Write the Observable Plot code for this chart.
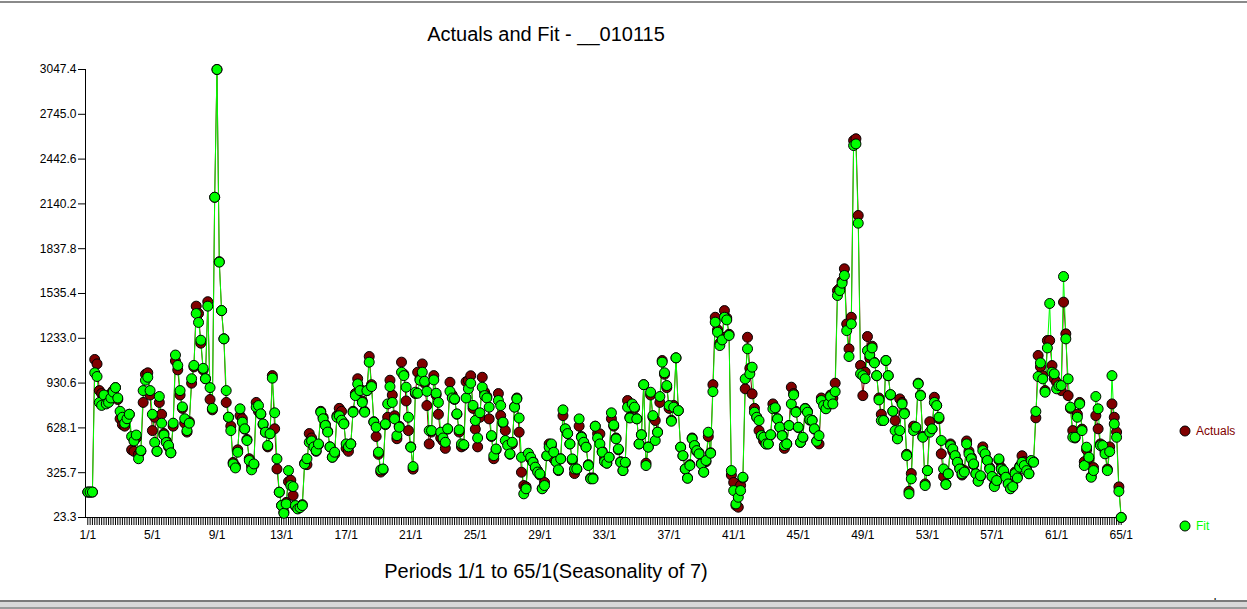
<!DOCTYPE html>
<html>
<head>
<meta charset="utf-8">
<script src="https://cdn.jsdelivr.net/npm/d3@7"></script>
<script src="https://cdn.jsdelivr.net/npm/@observablehq/plot@0.6"></script>
<style>
  html, body { margin: 0; padding: 0; background: #fff; }
  #wrap { position: relative; width: 1247px; height: 609px; overflow: hidden; font-family: "Liberation Sans", Arial, sans-serif; }
  #chart { position: absolute; left: 0; top: 0; }
  .txt { position: absolute; white-space: nowrap; color: #000; }
  #title { left: 546px; top: 22px; transform: translateX(-50%); font-size: 20px; line-height: 24px; }
  #xtitle { left: 546px; top: 559px; transform: translateX(-50%); font-size: 20px; line-height: 24px; }
  #topline { position: absolute; left: 0; top: 1px; width: 1247px; height: 2px; background: #8a8a8a; }
  #bot1 { position: absolute; left: 0; top: 600px; width: 1247px; height: 2px; background: #7a7a7a; }
  #bot2 { position: absolute; left: 0; top: 602px; width: 1247px; height: 5px; background: #d8d8d8; }
  #bot3 { position: absolute; left: 0; top: 607px; width: 1247px; height: 2px; background: #9a9a9a; }
  #legend { position: absolute; left: 1170px; top: 410px; }
</style>
</head>
<body>
<div id="wrap">
  <div id="topline"></div>
  <div id="chart"></div>
  <div class="txt" id="title">Actuals and Fit - __010115</div>
  <div class="txt" id="xtitle">Periods 1/1 to 65/1(Seasonality of 7)</div>
  <div id="bot1"></div><div id="bot2"></div><div id="bot3"></div>
  <svg id="legend" width="77" height="130"></svg>
</div>
<script>
// ---- data ----
const seriesNames = ["Actuals", "Fit"];
const seriesColors = ["#800000", "#00ff00"];
const yTickValues = [23.3, 325.7, 628.1, 930.6, 1233.0, 1535.4, 1837.8, 2140.2, 2442.6, 2745.0, 3047.4];
const xTickLabels = ["1/1","5/1","9/1","13/1","17/1","21/1","25/1","29/1","33/1","37/1","41/1","45/1","49/1","53/1","57/1","61/1","65/1"];

const actuals = [
195,195,195,1090,1060,880,860,840,800,810,860,880,900,820,690,650,640,700,720,480,
470,560,450,470,800,990,1000,850,610,700,470,800,720,590,540,500,460,640,1080,1020,
850,760,660,600,670,930,1040,1450,1400,1200,1020,960,1480,820,750,2185,3047.4,1750,1420,1230,
800,700,640,395,370,480,711,690,620,550,420,370,380,800,740,720,650,600,500,590,
981,622,351,194,104,60,125,265,275,172,100,85,95,110,390,380,590,560,520,470,
515,740,700,650,605,500,430,450,710,760,740,660,490,470,520,740,860,960,890,810,
740,880,1110,920,670,570,450,330,345,650,700,950,850,710,555,640,1072,990,810,610,
500,350,860,1004,960,1060,930,779,520,600,981,850,720,560,540,490,620,936,850,820,
720,600,500,510,940,948,980,760,620,500,700,970,870,840,689,570,420,480,860,711,
660,610,530,450,520,770,830,599,329,239,230,450,420,400,360,340,310,220,260,440,
520,510,420,400,340,420,711,620,590,520,410,320,350,640,570,530,500,380,290,290,
640,590,588,470,420,390,430,690,640,560,480,400,340,390,813,700,780,760,690,520,
582,920,390,500,850,700,678,600,800,1083,990,900,760,680,780,1101,745,498,440,350,
290,380,560,510,470,460,390,330,400,570,460,920,1375,1290,1200,1240,1420,1370,1260,310,
260,104,93,240,290,892,1240,1030,858,760,700,610,576,540,520,520,580,790,760,690,
633,580,490,520,644,903,860,740,630,530,560,760,740,680,680,620,540,520,830,790,
760,790,850,830,930,1555,1570,1620,1702,1330,1162,1375,2568,2580,2062,1050,846,1005,1245,1100,
1180,1070,980,830,720,680,1083,980,850,740,678,560,824,800,730,450,200,320,640,620,
930,850,570,250,340,670,620,835,780,690,453,300,250,320,520,470,440,400,360,310,
340,540,470,430,380,320,270,300,500,450,410,360,300,240,270,410,360,330,300,260,
220,240,330,300,370,440,400,360,320,400,400,696,1117,1040,980,880,1218,1218,1049,960,
936,900,880,1477,1263,846,760,610,560,720,800,620,400,480,420,300,360,711,622,520,
500,470,350,500,790,700,600,230,23.3
];

const fit = [
195,195,195,1000,975,800,780,850,790,800,830,870,900,830,740,700,660,690,720,570,
540,580,420,475,880,950,970,880,720,530,470,840,660,580,530,510,460,660,1120,1050,
880,770,690,610,660,960,1050,1400,1340,1220,1030,960,1450,900,760,2185,3047.4,1747,1420,1229,
880,700,610,385,358,464,757,667,622,543,408,345,385,768,779,723,655,599,509,588,
964,730,419,194,104,52,115,340,239,232,104,81,90,104,385,420,531,540,500,475,
520,734,690,645,600,500,430,464,700,710,680,655,520,500,520,734,846,925,880,800,
734,880,1072,907,667,633,464,345,351,655,790,907,800,689,576,633,1004,981,903,700,
498,367,869,862,950,1004,943,875,610,610,952,862,800,599,560,531,622,875,830,824,
723,615,520,515,830,892,930,780,678,560,730,903,846,830,768,576,441,486,813,779,
667,543,510,453,531,768,824,695,430,183,217,457,430,396,363,330,318,217,239,441,
498,520,464,400,345,419,750,622,590,520,419,351,351,689,565,531,498,374,284,284,
639,560,520,464,400,390,430,730,648,554,486,396,340,396,768,695,790,768,689,520,
582,920,374,498,869,711,543,599,840,1072,1000,914,779,673,768,1101,745,498,441,351,
288,374,554,509,475,453,385,329,408,599,457,873,1342,1274,1184,1222,1375,1357,1252,340,
205,115,160,205,295,959,1162,993,1038,734,700,678,576,565,520,520,582,757,764,689,
633,576,509,520,644,790,851,734,633,531,565,757,734,684,678,622,538,576,813,779,
757,790,840,790,873,1522,1555,1605,1657,1285,1110,1330,2534,2545,2010,993,981,960,1150,1120,
1168,1067,981,817,678,678,1083,981,853,741,610,554,610,790,723,441,183,284,610,633,
925,846,565,239,340,599,622,800,779,700,543,351,246,318,509,486,441,396,351,318,
330,520,453,420,385,318,268,305,475,453,408,350,300,232,273,419,350,340,295,250,
217,232,320,290,363,396,374,340,318,408,396,739,975,1067,959,869,1168,1468,1004,993,
892,914,914,1650,1229,959,768,565,565,700,790,610,374,498,430,295,340,840,757,509,
509,453,340,468,981,655,565,200,23.3
];

// table built from the arrays
const data = actuals.map((a, i) => ({day: i, actual: a, fit: fit[i]}));
const dayTicks = d3.range(actuals.length);

const chart = Plot.plot({
  width: 1247,
  height: 609,
  marginLeft: 85,
  marginRight: 124,
  marginTop: 69,
  marginBottom: 92,
  x: {domain: [-1, 449], axis: null},
  y: {domain: [23.3, 3047.4], axis: null},
  style: {fontFamily: "'Liberation Sans', Arial, sans-serif", fontSize: "12px", color: "#000", background: "transparent"},
  marks: [
    Plot.axisY({ticks: yTickValues, tickFormat: d => d.toFixed(1), tickSize: 7, tickPadding: 2, fontSize: 12, stroke: "#000", strokeOpacity: 1}),
    Plot.axisX({ticks: dayTicks, tickSize: 8, tickPadding: 5, fontSize: 12, stroke: "#000", strokeOpacity: 1,
      tickFormat: d => (d % 28 === 0 ? xTickLabels[d / 28] : "")}),
    Plot.ruleX([-1], {stroke: "#000", strokeWidth: 1}),
    Plot.ruleY([23.3], {stroke: "#000", strokeWidth: 1}),
    Plot.line(data, {x: "day", y: "actual", stroke: seriesColors[0], strokeWidth: 1}),
    Plot.line(data, {x: "day", y: "fit", stroke: seriesColors[1], strokeWidth: 1}),
    Plot.dot(data, {x: "day", y: "actual", r: 5, fill: seriesColors[0], stroke: "#000", strokeWidth: 1}),
    Plot.dot(data, {x: "day", y: "fit", r: 5, fill: seriesColors[1], stroke: "#000", strokeWidth: 1})
  ]
});
document.getElementById("chart").appendChild(chart);

// legend
const leg = d3.select("#legend");
const legY = [21, 116];
seriesNames.forEach((name, i) => {
  leg.append("circle").attr("cx", 15).attr("cy", legY[i]).attr("r", 5)
    .attr("fill", seriesColors[i]).attr("stroke", "#000").attr("stroke-width", 1);
  leg.append("text").attr("x", 26).attr("y", legY[i]).attr("dy", "0.35em")
    .attr("font-family", "'Liberation Sans', Arial, sans-serif").attr("font-size", 12)
    .attr("fill", seriesColors[i]).text(name);
});
</script>
</body>
</html>
